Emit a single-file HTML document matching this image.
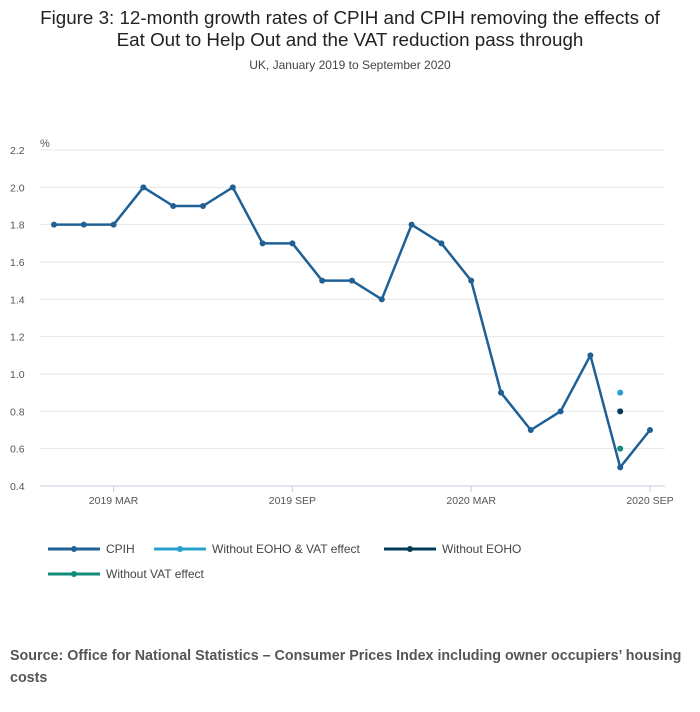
<!DOCTYPE html>
<html><head><meta charset="utf-8"><style>
body{margin:0;width:700px;height:707px;background:#fff;font-family:"Liberation Sans",sans-serif;overflow:hidden}
</style></head><body>
<svg width="700" height="707" id="svg" font-family="Liberation Sans, sans-serif">
<text x="350" y="24" text-anchor="middle" font-size="18.8" fill="#222">Figure 3: 12-month growth rates of CPIH and CPIH removing the effects of</text>
<text x="350" y="46" text-anchor="middle" font-size="18.8" fill="#222">Eat Out to Help Out and the VAT reduction pass through</text>
<text x="350" y="69" text-anchor="middle" font-size="12" fill="#444">UK, January 2019 to September 2020</text>
<text x="40" y="147" font-size="11" fill="#555">%</text>
<g id="grid"></g><g id="xaxis"></g><g id="series"></g>
<g font-size="12" fill="#444">
<g><line x1="48" y1="549" x2="100" y2="549" stroke="#206095" stroke-width="3"/><circle cx="74" cy="549" r="3" fill="#206095"/><text x="106" y="553">CPIH</text></g>
<g><line x1="154" y1="549" x2="206" y2="549" stroke="#27a0cc" stroke-width="3"/><circle cx="180" cy="549" r="3" fill="#27a0cc"/><text x="212" y="553">Without EOHO &amp; VAT effect</text></g>
<g><line x1="384" y1="549" x2="436" y2="549" stroke="#003c57" stroke-width="3"/><circle cx="410" cy="549" r="3" fill="#003c57"/><text x="442" y="553">Without EOHO</text></g>
<g><line x1="48" y1="574" x2="100" y2="574" stroke="#118c7b" stroke-width="3"/><circle cx="74" cy="574" r="3" fill="#118c7b"/><text x="106" y="578">Without VAT effect</text></g>
</g>
<text x="10" y="660" font-size="14.3" font-weight="bold" fill="#555">Source: Office for National Statistics – Consumer Prices Index including owner occupiers’ housing</text>
<text x="10" y="682" font-size="14.3" font-weight="bold" fill="#555">costs</text>
</svg>
<script>
const months=["2019-01","2019-02","2019-03","2019-04","2019-05","2019-06","2019-07","2019-08","2019-09","2019-10","2019-11","2019-12","2020-01","2020-02","2020-03","2020-04","2020-05","2020-06","2020-07","2020-08","2020-09"];
const cpih=[1.8,1.8,1.8,2.0,1.9,1.9,2.0,1.7,1.7,1.5,1.5,1.4,1.8,1.7,1.5,0.9,0.7,0.8,1.1,0.5,0.7];
const withoutEohoVat=[null,null,null,null,null,null,null,null,null,null,null,null,null,null,null,null,null,null,null,0.9,null];
const withoutEoho=[null,null,null,null,null,null,null,null,null,null,null,null,null,null,null,null,null,null,null,0.8,null];
const withoutVat=[null,null,null,null,null,null,null,null,null,null,null,null,null,null,null,null,null,null,null,0.6,null];
const yTicks=[0.4,0.6,0.8,1.0,1.2,1.4,1.6,1.8,2.0,2.2];
const xTickIdx=[2,8,14,20];
const xTickLabels=["2019 MAR","2019 SEP","2020 MAR","2020 SEP"];
const NS="http://www.w3.org/2000/svg";
const x=i=>54+i*29.8;
const y=v=>486-(v-0.4)/1.8*336;
function mk(t,a,p){const e=document.createElementNS(NS,t);for(const k in a)e.setAttribute(k,a[k]);p.appendChild(e);return e;}
const g=document.getElementById('grid');
yTicks.forEach(v=>{
 const l=mk('line',{x1:40,x2:665,y1:y(v),y2:y(v),stroke:v===0.4?'#c6cde0':'#e6e6e6'},g);
 
 
 const t=mk('text',{x:10,y:y(v)+4,'font-size':10.5,fill:'#555'},g);t.textContent=v.toFixed(1);
 
 
});
const xa=document.getElementById('xaxis');
xTickIdx.forEach((i,k)=>{
 const l=mk('line',{x1:x(i),x2:x(i),y1:486,y2:492,stroke:'#c6cde0'},xa);
 
 
 const t=mk('text',{x:x(i),y:504,'font-size':10.5,fill:'#555','text-anchor':'middle'},xa);t.textContent=xTickLabels[k];
 
 
});
const s=document.getElementById('series');
function series(arr,col,name){
 const pts=[];arr.forEach((v,i)=>{if(v!==null)pts.push(x(i)+','+y(v));});
 if(pts.length>1){const p=mk('polyline',{points:pts.join(' '),fill:'none',stroke:col,'stroke-width':2.5,'stroke-linejoin':'round'},s);
 
 }
 arr.forEach((v,i)=>{if(v===null)return;const c=mk('circle',{cx:x(i),cy:y(v),r:3,fill:col},s);
 
 });
}
series(cpih,'#206095','cpih');
series(withoutEohoVat,'#27a0cc','without-eoho-vat');
series(withoutEoho,'#003c57','without-eoho');
series(withoutVat,'#118c7b','without-vat');
</script>
</body></html>
